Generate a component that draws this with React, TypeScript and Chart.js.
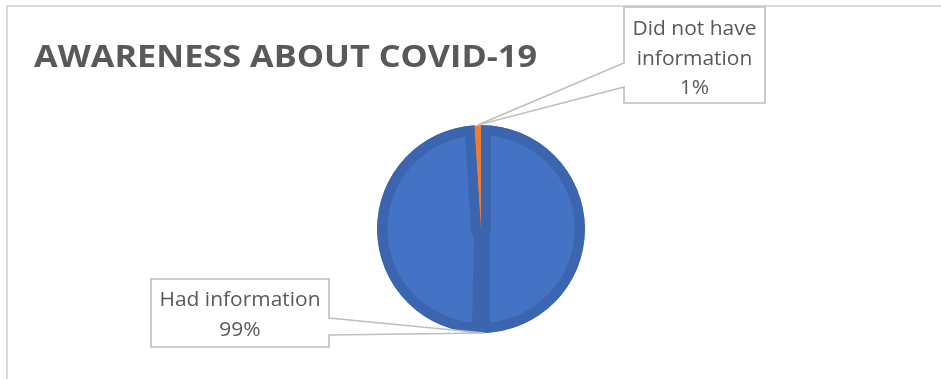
import React, { useEffect, useRef } from 'react';
import { Chart, registerables } from 'chart.js';

Chart.register(...registerables);

const title = 'AWARENESS ABOUT COVID-19';
const categories = ['Had information', 'Did not have information'];
const values = [99, 1];
const sliceColors = ['#4472C4', '#ED7D31'];
const rimColors = ['#3B65AF', '#ED7D31'];

const TEXT_COLOR = '#595959';
const LINE_COLOR = '#BFBFBF';
const FRAME_COLOR = '#D9D9D9';
const FONT = '"Open Sans", "Liberation Sans", sans-serif';

// callout boxes (layout only)
const callouts = [
  { left: 151, top: 279, right: 329, bottom: 347, side: 'right', p1: 318, p2: 335, baseline: 306, lineH: 30 },
  { left: 624, top: 7, right: 765, bottom: 103, side: 'left', p1: 63, p2: 87, baseline: 35, lineH: 29.5 },
];

function drawScaled(ctx: CanvasRenderingContext2D, text: string, x: number, y: number, sx: number, align: 'left' | 'center') {
  const w = ctx.measureText(text).width * sx;
  const x0 = align === 'center' ? x - w / 2 : x;
  ctx.save();
  ctx.textAlign = 'left';
  ctx.translate(x0, y);
  ctx.scale(sx, 1);
  ctx.fillText(text, 0, 0);
  ctx.restore();
}

function wrap(ctx: CanvasRenderingContext2D, text: string, maxW: number, sx: number) {
  const words = text.split(' ');
  const lines: string[] = [];
  let cur = '';
  for (const w of words) {
    const t = cur ? cur + ' ' + w : w;
    if (cur && ctx.measureText(t).width * sx > maxW) {
      lines.push(cur);
      cur = w;
    } else cur = t;
  }
  if (cur) lines.push(cur);
  return lines;
}

const decorPlugin = {
  id: 'decor',
  afterDatasetsDraw(chart: any) {
    const ctx: CanvasRenderingContext2D = chart.ctx;
    const meta = chart.getDatasetMeta(0);
    const arc0 = meta.data[0];
    if (!arc0) return;
    const { x, y, outerRadius } = arc0.getProps(['x', 'y', 'outerRadius'], true);
    // bevel strip below centre (Excel rendering artefact)
    ctx.save();
    ctx.beginPath();
    ctx.arc(x, y, outerRadius, 0, Math.PI * 2);
    ctx.clip();
    ctx.fillStyle = rimColors[0];
    ctx.beginPath();
    ctx.moveTo(x - 7, y);
    ctx.lineTo(x + 9, y);
    ctx.lineTo(x + 9, y + outerRadius);
    ctx.lineTo(x - 9, y + outerRadius);
    ctx.closePath();
    ctx.fill();
    ctx.restore();
  },
  afterDraw(chart: any) {
    const ctx: CanvasRenderingContext2D = chart.ctx;
    const W = chart.width;
    const H = chart.height;
    ctx.save();
    // frame
    ctx.strokeStyle = FRAME_COLOR;
    ctx.lineWidth = 2;
    ctx.beginPath();
    ctx.moveTo(W, 6);
    ctx.lineTo(7, 6);
    ctx.lineTo(7, H);
    ctx.stroke();

    // title
    ctx.font = `bold 31px ${FONT}`;
    ctx.fillStyle = TEXT_COLOR;
    ctx.textBaseline = 'alphabetic';
    const tsx = 503 / ctx.measureText(title).width;
    drawScaled(ctx, title, 34, 67, tsx, 'left');

    // callouts
    const total = values.reduce((a, b) => a + b, 0);
    ctx.font = `normal 20px ${FONT}`;
    const lsx = 161 / ctx.measureText('Had information').width;
    const meta = chart.getDatasetMeta(0);
    meta.data.forEach((arc: any, i: number) => {
      const c = callouts[i];
      if (!c) return;
      const p = arc.getProps(['x', 'y', 'startAngle', 'endAngle', 'outerRadius'], true);
      const mid = (p.startAngle + p.endAngle) / 2;
      const tx = p.x + Math.cos(mid) * p.outerRadius;
      const ty = p.y + Math.sin(mid) * p.outerRadius;
      ctx.fillStyle = '#FFFFFF';
      ctx.fillRect(c.left, c.top, c.right - c.left, c.bottom - c.top);
      ctx.strokeStyle = LINE_COLOR;
      ctx.lineWidth = 1.6;
      ctx.lineJoin = 'miter';
      ctx.beginPath();
      if (c.side === 'left') {
        ctx.moveTo(c.left, c.top);
        ctx.lineTo(c.right, c.top);
        ctx.lineTo(c.right, c.bottom);
        ctx.lineTo(c.left, c.bottom);
        ctx.lineTo(c.left, c.p2);
        ctx.lineTo(tx, ty);
        ctx.lineTo(c.left, c.p1);
        ctx.closePath();
      } else {
        ctx.moveTo(c.left, c.top);
        ctx.lineTo(c.right, c.top);
        ctx.lineTo(c.right, c.p1);
        ctx.lineTo(tx, ty);
        ctx.lineTo(c.right, c.p2);
        ctx.lineTo(c.right, c.bottom);
        ctx.lineTo(c.left, c.bottom);
        ctx.closePath();
      }
      ctx.stroke();

      ctx.font = `normal 20px ${FONT}`;
      ctx.fillStyle = TEXT_COLOR;
      ctx.textBaseline = 'alphabetic';
      const lines = wrap(ctx, categories[i], c.right - c.left - 14, lsx);
      lines.push(Math.round((values[i] / total) * 100) + '%');
      const cx = (c.left + c.right) / 2;
      lines.forEach((ln, k) => drawScaled(ctx, ln, cx, c.baseline + k * c.lineH, lsx, 'center'));
    });
    ctx.restore();
  },
};

export default function App() {
  const ref = useRef<HTMLCanvasElement>(null);
  useEffect(() => {
    document.body.style.margin = '0';
    const canvas = ref.current!;
    const chart = new Chart(canvas, {
      type: 'pie',
      data: {
        labels: categories,
        datasets: [
          {
            data: values,
            backgroundColor: sliceColors,
            borderColor: rimColors,
            borderWidth: [10, 0],
            borderAlign: 'inner',
            hoverOffset: 0,
          } as any,
        ],
      },
      options: {
        responsive: false,
        animation: false,
        events: [],
        layout: { padding: { top: 125, bottom: 46, left: 377, right: 356 } },
        plugins: { legend: { display: false }, tooltip: { enabled: false }, title: { display: false } },
      },
      plugins: [decorPlugin],
    });
    return () => chart.destroy();
  }, []);
  return (
    <div style={{ width: 941, height: 379, background: '#fff' }}>
      <canvas ref={ref} width={941} height={379} style={{ display: 'block' }} />
    </div>
  );
}
